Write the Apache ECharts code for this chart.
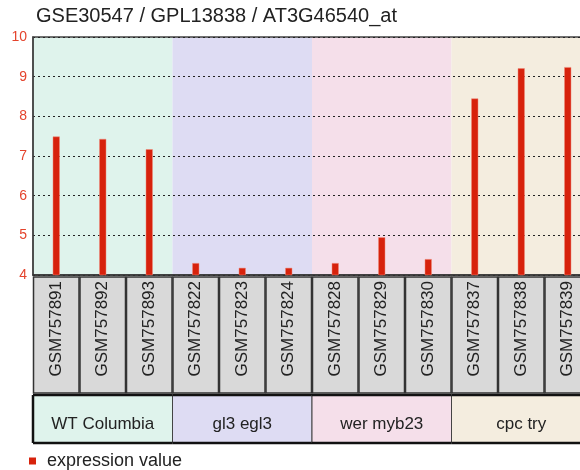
<!DOCTYPE html>
<html>
<head>
<meta charset="utf-8">
<script src="https://cdn.jsdelivr.net/npm/echarts@6/dist/echarts.min.js"></script>
<style>html,body{margin:0;padding:0;background:#fff;overflow:hidden;}#c{width:600px;height:470px;}</style>
</head>
<body>
<div id="c"></div>
<script>
const titleText = 'GSE30547 / GPL13838 / AT3G46540_at';
const samples = ['GSM757891','GSM757892','GSM757893','GSM757822','GSM757823','GSM757824','GSM757828','GSM757829','GSM757830','GSM757837','GSM757838','GSM757839'];
const values = [7.49, 7.43, 7.17, 4.30, 4.18, 4.18, 4.30, 4.95, 4.40, 8.45, 9.21, 9.24];
const groups = ['WT Columbia','gl3 egl3','wer myb23','cpc try'];
const groupStart = [0, 3, 6, 9];
const groupSize = [3, 3, 3, 3];
const groupColors = ['#dff3ec','#dedcf3','#f5dfea','#f4eddf'];
const yMin = 4, yMax = 10, yStep = 1;
const seriesName = 'expression value';
const FONT = '"Liberation Sans", Arial, Helvetica, sans-serif';

const chart = echarts.init(document.getElementById('c'), null, {renderer:'canvas'});

function bandSeries(){
  return {
    type:'custom', z:-1, silent:true, clip:false,
    data: groupStart.map((s,i)=>[s, yMax]),
    renderItem:function(params, api){
      const i = params.dataIndex;
      const s = groupStart[i], n = groupSize[i];
      const bw = api.size([1,0])[0];
      const x0 = api.coord([s, yMax])[0] - bw/2;
      const top = api.coord([s, yMax])[1];
      const bot = api.coord([s, yMin])[1];
      const w = bw*n;
      const gTop = bot + 120, gH = 48;
      const children = [
        {type:'rect', shape:{x:x0, y:top, width:w, height:bot-top}, style:{fill:groupColors[i]}},
        {type:'rect', shape:{x:x0, y:gTop, width:w, height:gH}, style:{fill:groupColors[i], stroke:'#444', lineWidth:1}},
        {type:'line', shape:{x1:x0, y1:gTop, x2:x0+w, y2:gTop}, style:{stroke:'#111', lineWidth:2.5}},
        {type:'line', shape:{x1:x0, y1:gTop+gH, x2:x0+w, y2:gTop+gH}, style:{stroke:'#111', lineWidth:2.5}},
        {type:'text', x:x0+w/2, y:gTop+29, style:{text:groups[i], fill:'#222', font:'17px '+FONT, align:'center', verticalAlign:'middle'}}
      ];
      if(i===0){
        children.push({type:'line', shape:{x1:x0, y1:gTop, x2:x0, y2:gTop+gH}, style:{stroke:'#111', lineWidth:2.5}});
      }
      return {type:'group', children:children};
    }
  };
}

function labelBoxSeries(){
  return {
    type:'custom', z:3, silent:true, clip:false,
    data: samples.map((s,i)=>[i, yMin]),
    renderItem:function(params, api){
      const i = params.dataIndex;
      const bw = api.size([1,0])[0];
      const c = api.coord([i, yMin]);
      const x0 = c[0] - bw/2;
      const top = c[1] + 2;
      const h = 116;
      return {type:'group', children:[
        {type:'rect', shape:{x:x0+0.5, y:top, width:bw-1, height:h}, style:{fill:'#d9d9d9', stroke:'#333', lineWidth:1.5}},
        {type:'text', x:c[0], y:top+4, rotation:Math.PI/2,
          style:{text:samples[i], fill:'#222', font:'17px '+FONT, align:'right', verticalAlign:'middle'}}
      ]};
    }
  };
}

chart.setOption({
  animation:false,
  title:{text:titleText, left:31, top:1, textStyle:{fontSize:20, fontWeight:'normal', color:'#222', fontFamily:FONT}},
  legend:{data:[seriesName], left:24, top:447, icon:'rect', itemWidth:7, itemHeight:7,
    itemStyle:{borderWidth:0, color:'#d7220c'},
    textStyle:{fontSize:18, color:'#222', fontFamily:FONT, padding:[0,0,0,6]}},
  grid:{left:33, top:37, width:558, height:238, show:true, borderColor:'#444', borderWidth:1.5, backgroundColor:'transparent', containLabel:false},
  xAxis:{type:'category', data:samples,
    axisLine:{show:true, lineStyle:{color:'#333', width:1.5}},
    axisTick:{show:true, inside:true, length:3, alignWithLabel:true, lineStyle:{color:'#000'}},
    axisLabel:{show:false}, splitLine:{show:false}},
  yAxis:{type:'value', min:yMin, max:yMax, interval:yStep,
    axisLine:{show:true, lineStyle:{color:'#444', width:1.5}},
    axisTick:{show:false},
    axisLabel:{color:'#e4432c', fontSize:14, fontFamily:FONT, margin:6},
    splitLine:{show:true, lineStyle:{color:'#222', type:[2,3], width:1}}},
  series:[
    bandSeries(),
    {name:seriesName, type:'bar', data:values, barWidth:7, z:2,
      itemStyle:{color:'#d7220c', borderColor:'#ee8a7a', borderWidth:0.5}},
    labelBoxSeries()
  ]
});
</script>
</body>
</html>
